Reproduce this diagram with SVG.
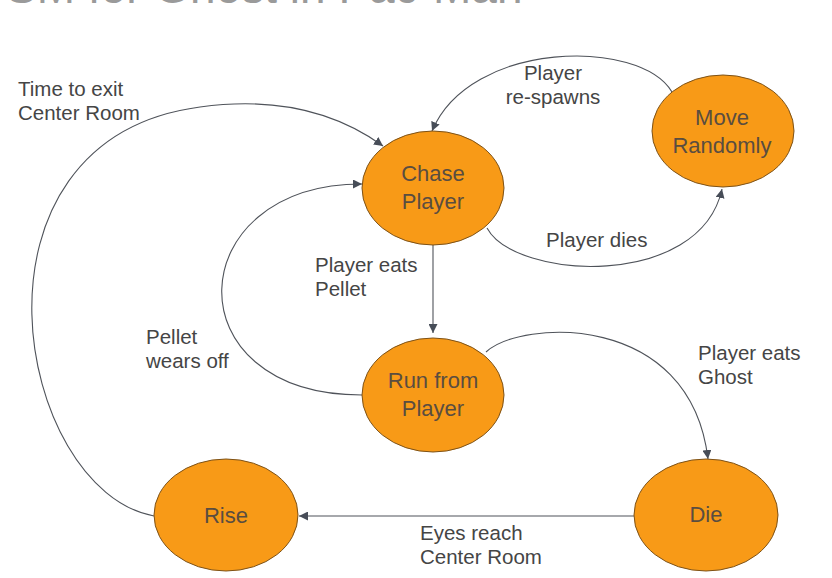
<svg xmlns="http://www.w3.org/2000/svg" width="832" height="578" viewBox="0 0 832 578">
<defs>
<marker id="arr" viewBox="0 0 10 10" refX="10" refY="5" markerWidth="9" markerHeight="9" markerUnits="userSpaceOnUse" orient="auto">
<path d="M0,0 L10,5 L0,10 Z" fill="#474d58"/>
</marker>
<style>
.node ellipse{fill:#F89A17;stroke:#7d5218;stroke-width:1}
.node text{font-family:"Liberation Sans",Arial,sans-serif;font-size:22px;fill:#5a4d40;text-anchor:middle}
.edge{fill:none;stroke:#4f535a;stroke-width:1.1;marker-end:url(#arr)}
.lbl{font-family:"Liberation Sans",Arial,sans-serif;font-size:20.5px;fill:#454545}
.title{font-family:"Liberation Sans",Arial,sans-serif;font-size:46px;fill:#9a9a9a}
</style>
</defs>
<rect width="832" height="578" fill="#ffffff"/>
<text class="title" x="-22" y="3">FSM for Ghost in Pac-Man</text>
<g id="connectors">
<path class="edge" d="M154,516 C15,490 -48,140 200,107 C280,96 340,115 383,146"/>
<path class="edge" d="M433,245 L433,333"/>
<path class="edge" d="M362,395 C170,395 180,184 362,184"/>
<path class="edge" d="M487,228 C515,280 700,290 722,189"/>
<path class="edge" d="M672,92 C640,38 470,40 432,131"/>
<path class="edge" d="M486,352 C520,320 690,310 708,459"/>
<path class="edge" d="M634,516 L299,516"/>
</g>
<g id="labels">
<text class="lbl" x="18" y="96">Time to exit</text>
<text class="lbl" x="18" y="120">Center Room</text>
<text class="lbl" x="553" y="80" text-anchor="middle">Player</text>
<text class="lbl" x="553" y="104" text-anchor="middle">re-spawns</text>
<text class="lbl" x="546" y="247">Player dies</text>
<text class="lbl" x="315" y="272">Player eats</text>
<text class="lbl" x="315" y="296">Pellet</text>
<text class="lbl" x="146" y="344">Pellet</text>
<text class="lbl" x="146" y="368">wears off</text>
<text class="lbl" x="698" y="360">Player eats</text>
<text class="lbl" x="698" y="384">Ghost</text>
<text class="lbl" x="420" y="540">Eyes reach</text>
<text class="lbl" x="420" y="564">Center Room</text>
</g>
<g id="chase" class="node">
<ellipse cx="433" cy="188" rx="71" ry="57"/>
<text x="433" y="181">Chase</text>
<text x="433" y="209">Player</text>
</g>
<g id="move" class="node">
<ellipse cx="723" cy="131" rx="71" ry="56"/>
<text x="722" y="125">Move</text>
<text x="722" y="153">Randomly</text>
</g>
<g id="run" class="node">
<ellipse cx="433" cy="395" rx="71" ry="57"/>
<text x="433" y="388">Run from</text>
<text x="433" y="416">Player</text>
</g>
<g id="die" class="node">
<ellipse cx="706" cy="515" rx="72" ry="56"/>
<text x="706" y="522">Die</text>
</g>
<g id="rise" class="node">
<ellipse cx="226" cy="515" rx="72" ry="56"/>
<text x="226" y="523">Rise</text>
</g>
</svg>
